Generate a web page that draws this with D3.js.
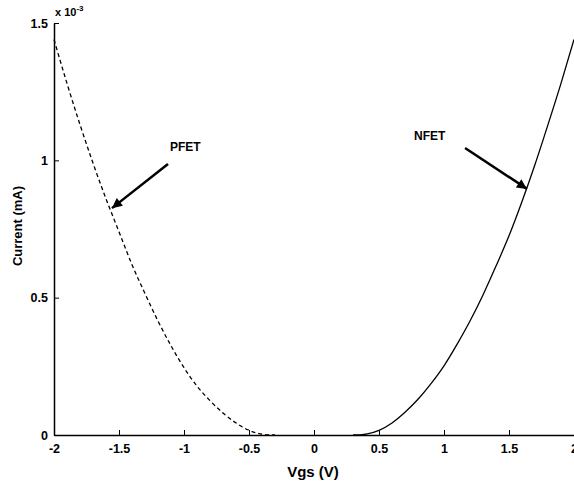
<!DOCTYPE html>
<html>
<head>
<meta charset="utf-8">
<script src="https://cdn.jsdelivr.net/npm/d3@7"></script>
<style>
html,body{margin:0;padding:0;background:#fff;}
svg{display:block;}
text{font-family:"Liberation Sans",Arial,sans-serif;font-weight:bold;fill:#000;}
</style>
</head>
<body>
<svg id="chart" width="574" height="484"></svg>
<script>
// ---- data ----
const pfetV = [-2.0,-1.9,-1.8,-1.7,-1.6,-1.5,-1.4,-1.3,-1.2,-1.1,-1.0,-0.9,-0.8,-0.7,-0.6,-0.5,-0.4,-0.35,-0.3];
const pfetI = [1.44,1.28,1.13,0.99,0.86,0.74,0.62,0.515,0.415,0.325,0.245,0.178,0.125,0.08,0.044,0.017,0.003,0.0,0.0];
const nfetV = [0.3,0.35,0.4,0.5,0.6,0.7,0.8,0.9,1.0,1.1,1.2,1.3,1.4,1.5,1.6,1.7,1.8,1.9,2.0];
const nfetI = [0.0,0.0,0.003,0.017,0.044,0.083,0.13,0.187,0.252,0.33,0.415,0.51,0.615,0.725,0.85,0.985,1.13,1.28,1.44];
const xTicks = [-2,-1.5,-1,-0.5,0,0.5,1,1.5,2];
const xTickLabels = ["-2","-1.5","-1","-0.5","0","0.5","1","1.5","2"];
const yTicks = [0,0.5,1,1.5];
const yTickLabels = ["0","0.5","1","1.5"];
const labels = [
  {name:"PFET", v:-1.108, i:1.034, fromV:-1.123, fromI:0.987, toV:-1.554, toI:0.826},
  {name:"NFET", v:0.769, i:1.074, fromV:1.162, fromI:1.045, toV:1.638, toI:0.896}
];

// ---- layout ----
const svg = d3.select("#chart");
const x = d3.scaleLinear().domain([-2,2]).range([54,574]);
const y = d3.scaleLinear().domain([0,1.5]).range([435,23]);

// arrow marker
svg.append("defs").append("marker")
  .attr("id","ah").attr("viewBox","0 0 10 10").attr("refX",10).attr("refY",5)
  .attr("markerWidth",5).attr("markerHeight",4).attr("markerUnits","strokeWidth")
  .attr("orient","auto")
  .append("path").attr("d","M0,0 L10,5 L0,10 Z").attr("fill","#000");

// axes (MATLAB style, inward ticks)
const xAxis = d3.axisBottom(x).tickValues(xTicks)
  .tickFormat((d,i)=>xTickLabels[i]).tickSizeInner(-5).tickSizeOuter(0).tickPadding(9);
const gx = svg.append("g").attr("transform","translate(0,435)").call(xAxis);
gx.select(".domain").attr("stroke","#000").attr("stroke-width",1.5);
gx.selectAll(".tick line").attr("stroke","#000").attr("stroke-width",1);
gx.selectAll(".tick text").attr("font-size",12.5).attr("font-family","Liberation Sans, Arial, sans-serif").attr("font-weight","bold");

const yAxis = d3.axisLeft(y).tickValues(yTicks)
  .tickFormat((d,i)=>yTickLabels[i]).tickSizeInner(-5).tickSizeOuter(0).tickPadding(6);
const gy = svg.append("g").attr("transform","translate(54,0)").call(yAxis);
gy.select(".domain").attr("stroke","#000").attr("stroke-width",1.5);
gy.selectAll(".tick line").attr("stroke","#000").attr("stroke-width",1);
gy.selectAll(".tick text").attr("font-size",12.5).attr("font-family","Liberation Sans, Arial, sans-serif").attr("font-weight","bold");

// exponent label
const ex = svg.append("text").attr("x",55).attr("y",16).attr("font-size",11).attr("font-weight","normal");
ex.append("tspan").text("x 10");
ex.append("tspan").attr("dy",-5).attr("font-size",8).text("-3");

// curves
const line = d3.line().x(d=>x(d[0])).y(d=>y(d[1])).curve(d3.curveMonotoneX);
svg.append("path").datum(pfetV.map((v,k)=>[v,pfetI[k]]))
  .attr("d",line).attr("fill","none").attr("stroke","#000").attr("stroke-width",1.3)
  .attr("stroke-dasharray","4,3");
svg.append("path").datum(nfetV.map((v,k)=>[v,nfetI[k]]))
  .attr("d",line).attr("fill","none").attr("stroke","#000").attr("stroke-width",1.3);

// annotations
labels.forEach(l=>{
  svg.append("text").attr("x",x(l.v)).attr("y",y(l.i)).attr("font-size",12).text(l.name);
  svg.append("line").attr("x1",x(l.fromV)).attr("y1",y(l.fromI))
    .attr("x2",x(l.toV)).attr("y2",y(l.toI))
    .attr("stroke","#000").attr("stroke-width",2.5).attr("marker-end","url(#ah)");
});

// axis titles
svg.append("text").attr("x",313).attr("y",477).attr("text-anchor","middle").attr("font-size",15).text("Vgs (V)");
svg.append("text").attr("transform","translate(22,226) rotate(-90)").attr("text-anchor","middle").attr("font-size",13).text("Current (mA)");
</script>
</body>
</html>
